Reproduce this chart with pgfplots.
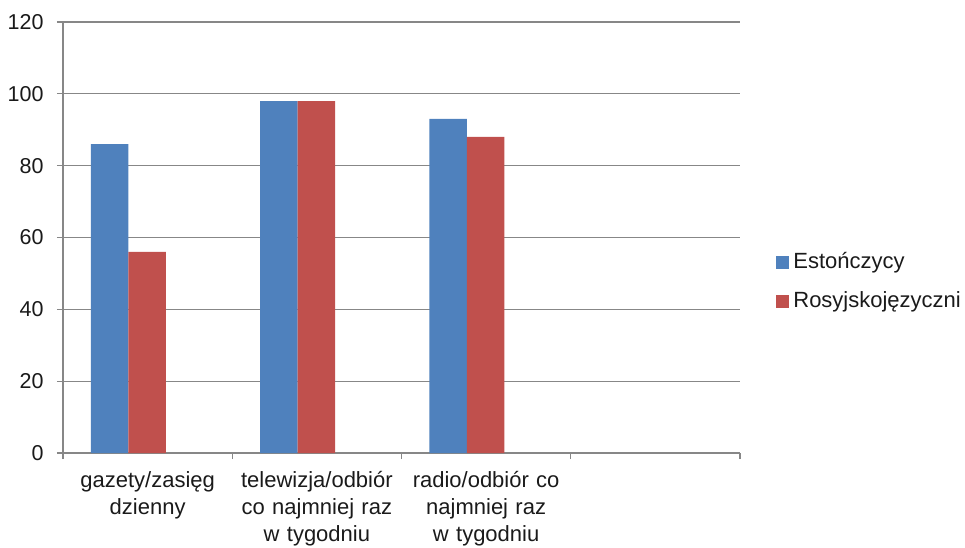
\documentclass[border=0pt]{standalone}
\usepackage{pgfplots}
\pgfplotsset{compat=1.18}
\usepackage{fontspec}
\setmainfont{Liberation Sans}
\definecolor{eblue}{HTML}{4F81BD}
\definecolor{ered}{HTML}{C0504D}
\definecolor{gridc}{HTML}{878787}
\definecolor{txt}{HTML}{1A1A1A}
\begin{document}
\fontsize{22}{27}\selectfont
\begin{tikzpicture}
\begin{axis}[
  scale only axis, width=677pt, height=431pt,
  xmin=0, xmax=4, ymin=0, ymax=120,
  ytick={0,20,...,120},
  ymajorgrids, grid style={gridc, line width=1.1pt},
  axis x line*=bottom, axis y line*=left,
  axis line style={gridc, line width=1.1pt},
  tick align=outside, tick pos=left,
  every tick/.style={gridc, line width=1.1pt},
  major tick length=6pt, minor tick length=6pt,
  xtick={0.5,1.5,2.5},
  xticklabels={{gazety/zasięg\\dzienny},{telewizja/odbiór\\co najmniej raz\\w tygodniu},{radio/odbiór co\\najmniej raz\\w tygodniu}},
  major x tick style={draw=none},
  minor xtick={0,1,2,3,4},
  x tick label style={text width=175pt, align=center, font=\fontsize{22}{27}\selectfont, text=txt, anchor=north, yshift=-5pt},
  y tick label style={font=\fontsize{21.5}{26}\selectfont, text=txt, xshift=-6pt},
  /pgf/number format/assume math mode=true,
  legend style={at={(rel axis cs:1.049,0.397)}, anchor=west, draw=none, fill=none,
    font=\fontsize{22}{27}\selectfont, text=txt, row sep=16pt,
    /tikz/every even column/.style={column sep=0pt}},
  legend cell align=left,
]
\coordinate (sw) at (rel axis cs:0,0);
\coordinate (ne) at (rel axis cs:1,1);
\addplot[ybar, bar width=0.222, bar shift=0pt, fill=eblue, draw=none,
  legend image code/.code={\fill[eblue] (0pt,-6.5pt) rectangle (13pt,6.5pt);}]
  coordinates {(0.275,86) (1.275,98) (2.275,93)};
\addlegendentry{\hspace{2pt}Estończycy}
\addplot[ybar, bar width=0.222, bar shift=0pt, fill=ered, draw=none,
  legend image code/.code={\fill[ered] (0pt,-6.5pt) rectangle (13pt,6.5pt);}]
  coordinates {(0.497,56) (1.497,98) (2.497,88)};
\addlegendentry{\hspace{2pt}Rosyjskojęzyczni}
\end{axis}
\pgfresetboundingbox
\path ([xshift=-63pt,yshift=-94pt]sw) rectangle ([xshift=225pt,yshift=22pt]ne);
\end{tikzpicture}
\end{document}
